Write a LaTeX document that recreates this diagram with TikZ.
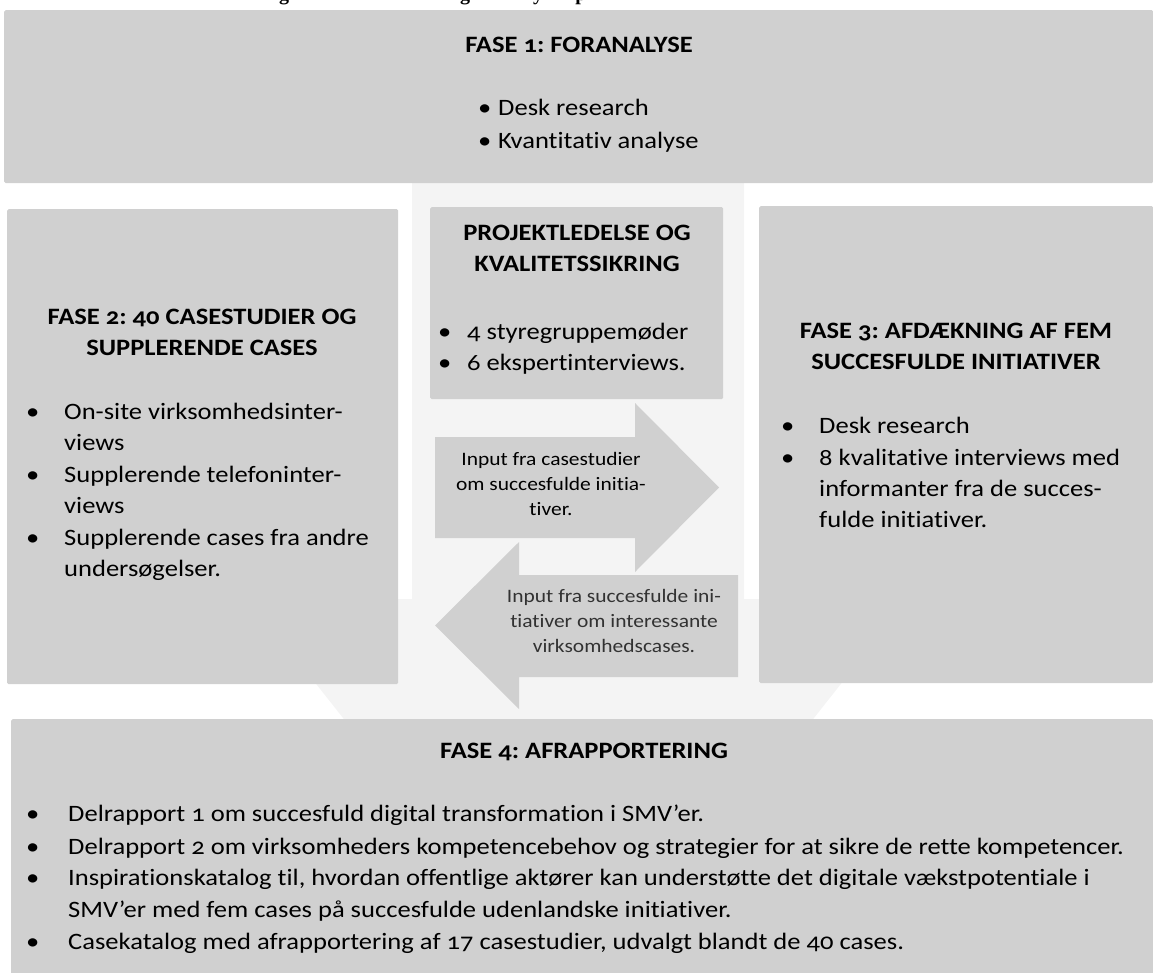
\documentclass[tikz,border=0pt]{standalone}
\usepackage{fontspec}
\setmainfont{Carlito}[Numbers=OldStyle, FakeStretch=1.13, Ligatures=NoCommon]
\newfontfamily\captionserif{Liberation Serif}
\frenchspacing
\definecolor{boxgray}{RGB}{208,208,208}
\definecolor{backgray}{RGB}{244,244,244}
\definecolor{arrowink}{RGB}{50,50,50}

\begin{document}
\begin{tikzpicture}[x=1pt,y=-1pt,
  box/.style={fill=boxgray, rounded corners=1.5pt, inner sep=0pt, anchor=north west},
  body/.style={inner sep=0pt, font=\fontsize{23.5}{31.5}\selectfont},
  head/.style={inner sep=0pt, font=\fontsize{23.5}{31.5}\selectfont\bfseries, anchor=mid},
  li/.style={body, anchor=mid west},
  small/.style={inner sep=0pt, anchor=mid, font=\fontsize{19}{25}\selectfont},
  smallgray/.style={small, text=arrowink}]

\useasboundingbox (0,0) rectangle (1153,973);

% caption line above the figure, only its descenders fall on the page
\begin{scope}
  \clip (0,0) rectangle (1153,8);
  \foreach \px/\ch in {284/g,465/g,538/y,581/p}
    \node[inner sep=0pt, anchor=base, font=\fontsize{20}{24}\captionserif\bfseries] at (\px,0.5) {\ch};
\end{scope}

% light background: vertical band widening into a downward arrow head
\fill[backgray] (412,183) -- (744,183) -- (744,599) -- (908,599)
  -- (578.5,1016) -- (249,599) -- (412,599) -- cycle;

% phase boxes
\node[box, minimum width=1149pt, minimum height=173pt] (fase1) at (4,10) {};
\node[box, minimum width=391pt, minimum height=475pt] (fase2) at (7,209) {};
\node[box, minimum width=394pt, minimum height=477pt] (fase3) at (759,206) {};
\node[box, minimum width=293pt, minimum height=192pt] (pl) at (430,207) {};
\node[box, minimum width=1142pt, minimum height=260pt] (fase4) at (11,719) {};

% feedback arrows between phase 2 and phase 3
\fill[boxgray] (435,437) -- (635,437) -- (635,403) -- (719,487.5)
  -- (635,572) -- (635,538) -- (435,538) -- cycle;
\fill[boxgray] (738,575) -- (519,575) -- (519,542) -- (435,625.5)
  -- (519,709) -- (519,677) -- (738,677) -- cycle;

% FASE 1
\node[head] (f1t) at (579,50) {FASE 1: FORANALYSE};
\node[li] (f1b1) at (478,113) {•};
\node[li] (f1i1) at (498,113) {Desk research};
\node[li] (f1b2) at (478,146) {•};
\node[li] (f1i2) at (498,146) {Kvantitativ analyse};

% project management
\node[head] (plt1) at (577,238) {PROJEKTLEDELSE OG};
\node[head] (plt2) at (577,269) {KVALITETSSIKRING};
\node[li] (plb1) at (438,337) {•};
\node[li] (pli1) at (467,337) {4 styregruppemøder};
\node[li] (plb2) at (438,368) {•};
\node[li] (pli2) at (467,368) {6 ekspertinterviews.};

% FASE 2
\node[head] (f2t1) at (202,322) {FASE 2: 40 CASESTUDIER OG};
\node[head] (f2t2) at (202,353) {SUPPLERENDE CASES};
\node[li] (f2b1) at (26,417) {•};
\node[li] (f2i1) at (64,417) {On-site virksomhedsinter-};
\node[li] (f2i1b) at (64,448) {views};
\node[li] (f2b2) at (26,480) {•};
\node[li] (f2i2) at (64,480) {Supplerende telefoninter-};
\node[li] (f2i2b) at (64,511) {views};
\node[li] (f2b3) at (26,543) {•};
\node[li] (f2i3) at (64,543) {Supplerende cases fra andre};
\node[li] (f2i3b) at (64,574) {undersøgelser.};

% FASE 3
\node[head] (f3t1) at (956,336) {FASE 3: AFDÆKNING AF FEM};
\node[head] (f3t2) at (956,367) {SUCCESFULDE INITIATIVER};
\node[li] (f3b1) at (781,431) {•};
\node[li] (f3i1) at (819,431) {Desk research};
\node[li] (f3b2) at (781,463) {•};
\node[li] (f3i2) at (819,463) {8 kvalitative interviews med};
\node[li] (f3i2b) at (819,494) {informanter fra de succes-};
\node[li] (f3i2c) at (819,525) {fulde initiativer.};

% arrow texts
\node[small] (a1l1) at (551,463) {Input fra casestudier};
\node[small] (a1l2) at (551,488) {om succesfulde initia-};
\node[small] (a1l3) at (551,513) {tiver.};
\node[smallgray] (a2l1) at (614,600) {Input fra succesfulde ini-};
\node[smallgray] (a2l2) at (614,625) {tiativer om interessante};
\node[smallgray] (a2l3) at (614,650) {virksomhedscases.};

% FASE 4
\node[head] (f4t) at (584,756) {FASE 4: AFRAPPORTERING};
\node[li] (f4b1) at (26,819) {•};
\node[li] (f4i1) at (68,819) {Delrapport 1 om succesfuld digital transformation i SMV’er.};
\node[li] (f4b2) at (26,852) {•};
\node[li] (f4i2) at (68,852) {Delrapport 2 om virksomheders kompetencebehov og strategier for at sikre de rette kompetencer.};
\node[li] (f4b3) at (26,883) {•};
\node[li] (f4i3) at (68,883) {Inspirationskatalog til, hvordan offentlige aktører kan understøtte det digitale vækstpotentiale i};
\node[li] (f4i3b) at (68,915) {SMV’er med fem cases på succesfulde udenlandske initiativer.};
\node[li] (f4b4) at (26,947) {•};
\node[li] (f4i4) at (68,947) {Casekatalog med afrapportering af 17 casestudier, udvalgt blandt de 40 cases.};

\end{tikzpicture}
\end{document}
